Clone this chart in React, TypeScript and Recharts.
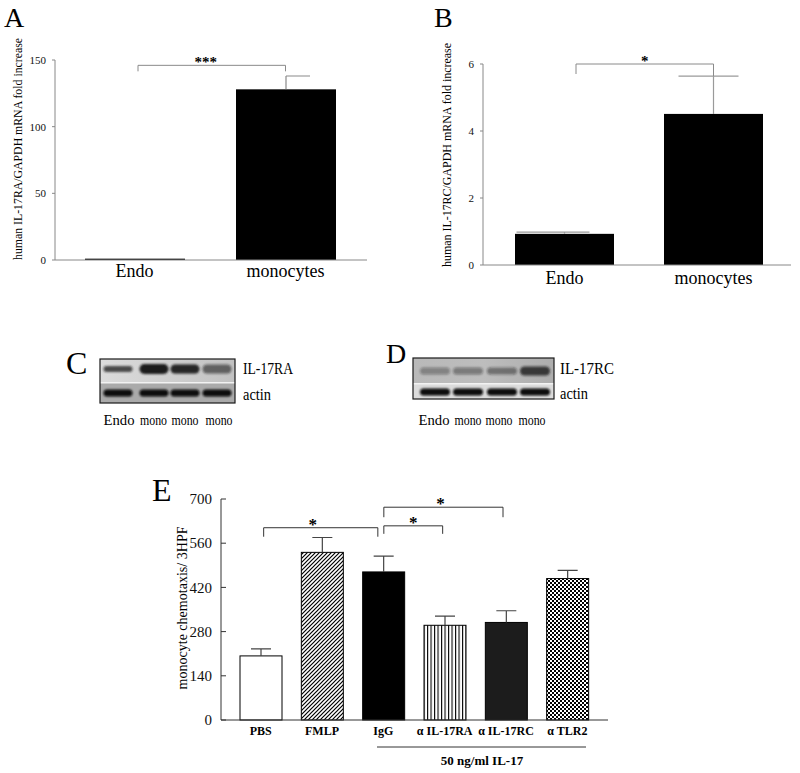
import React from "react";
import { BarChart, Bar, XAxis, YAxis, ReferenceLine } from "recharts";

const FONT = '"Liberation Serif", "Times New Roman", serif';

// Panel A - IL-17RA mRNA
const aCategories = ["Endo", "monocytes"];
const aValues = [1, 128];
const aErrors = [0, 10];
const aTicks = [0, 50, 100, 150];
const aBrackets = [{ from: "Endo", to: "monocytes", y: 146, label: "***" }];

// Panel B - IL-17RC mRNA
const bCategories = ["Endo", "monocytes"];
const bValues = [0.93, 4.51];
const bErrors = [0.05, 1.13];
const bTicks = [0, 2, 4, 6];
const bBrackets = [{ from: "Endo", to: "monocytes", y: 6.0, label: "*" }];

// Panel E - monocyte chemotaxis
const eCategories = ["PBS", "FMLP", "IgG", "α IL-17RA", "α IL-17RC", "α TLR2"];
const eValues = [203, 531, 469, 300, 309, 448];
const eErrors = [22, 47, 50, 29, 37, 26];
const eTicks = [0, 140, 280, 420, 560, 700];
const eBrackets = [
  { from: "PBS", to: "IgG", y: 609, label: "*" },
  { from: "IgG", to: "α IL-17RA", y: 615, label: "*" },
  { from: "IgG", to: "α IL-17RC", y: 674, label: "*" },
];

// Western blots (relative band intensity)
const cLanes = ["Endo", "mono", "mono", "mono"];
const cTarget = [0.75, 1, 0.95, 0.6];
const dLanes = ["Endo", "mono", "mono", "mono"];
const dTarget = [0.35, 0.4, 0.45, 0.8];

const toRows = (cats: string[], vals: number[], errs: number[]) =>
  cats.map((name, i) => ({ name, v: vals[i], err: errs[i] }));

const aData = toRows(aCategories, aValues, aErrors);
const bData = toRows(bCategories, bValues, bErrors);
const eData = toRows(eCategories, eValues, eErrors);

// styles
const aCap = [{ l: 0, r: 0 }, { l: 0, r: 24 }];
const bCap = [{ l: -48, r: 25 }, { l: -35, r: 25 }];
const eCap = eCategories.map(() => ({ l: -10, r: 10 }));
const eFills = ["#ffffff", "url(#hatchDiag)", "#000000", "url(#hatchVert)", "#1c1c1c", "url(#checker)"];

const aBracketStyle = [{ dxL: 3.5, dxR: 0, dropL: 6, dropR: 6, labelDx: -6 }];
const bBracketStyle = [{ dxL: 11.5, dxR: 0, dropL: 10, dropR: 12, labelDx: 0 }];
const eBracketStyle = [
  { dxL: 3, dxR: -5.5, dropL: 9, dropR: 9, labelDx: -8 },
  { dxL: 0.5, dxR: -2, dropL: 8, dropR: 8, labelDx: 0 },
  { dxL: 0.5, dxR: -3, dropL: 10, dropR: 10, labelDx: -3 },
];

function makeBarShape(
  fills: string[],
  stroke: string | null,
  errColor: string,
  caps: { l: number; r: number }[]
) {
  return (props: any) => {
    const { x, y, width, height, index, payload } = props;
    const cx = x + width / 2;
    const val = payload.v;
    const err = payload.err;
    const errTop = val ? y - (err * height) / val : y;
    const cap = caps[index];
    return (
      <g>
        <rect
          x={x}
          y={y}
          width={width}
          height={height}
          fill={fills[index % fills.length]}
          stroke={stroke || "none"}
          strokeWidth={stroke ? 1 : 0}
        />
        {err > 0 && (
          <path
            d={`M${cx},${y}V${errTop}M${cx + cap.l},${errTop}H${cx + cap.r}`}
            stroke={errColor}
            strokeWidth={1.2}
            fill="none"
          />
        )}
      </g>
    );
  };
}

function makeBracket(
  st: { dxL: number; dxR: number; dropL: number; dropR: number; labelDx: number },
  label: string,
  color: string,
  fontSize: number
) {
  return (p: any) => {
    const xl = p.x1 + st.dxL;
    const xr = p.x2 + st.dxR;
    const yy = p.y1;
    return (
      <g>
        <path
          d={`M${xl},${yy + st.dropL}V${yy}H${xr}V${yy + st.dropR}`}
          fill="none"
          stroke={color}
          strokeWidth={1}
        />
        <text
          x={(xl + xr) / 2 + st.labelDx}
          y={yy + 2}
          textAnchor="middle"
          fontSize={fontSize}
          fontWeight="bold"
          fontFamily={FONT}
          fill="#000"
        >
          {label}
        </text>
      </g>
    );
  };
}

const ETick = (props: any) => {
  const { x, y, payload } = props;
  return (
    <g>
      <line x1={x + 9} x2={x + 14} y1={y} y2={y} stroke="#333" strokeWidth={1} />
      <text x={x} y={y} dy="0.35em" textAnchor="end" fontSize={15} fontFamily={FONT} fill="#111">
        {payload.value}
      </text>
    </g>
  );
};

function Blot(props: {
  x: number;
  y: number;
  w: number;
  h: number;
  split: number;
  upperId: string;
  lowerFill: string;
  laneX: number[];
  target: number[];
  targetCy: number;
  targetH: number[];
  actinCy: number;
  bandW: number;
}) {
  const { x, y, w, h, split, upperId, lowerFill, laneX, target, targetCy, targetH, actinCy, bandW } = props;
  return (
    <g>
      <rect x={x} y={y} width={w} height={split - y} fill={`url(#${upperId})`} />
      <rect x={x} y={split} width={w} height={y + h - split} fill={lowerFill} />
      <rect x={x} y={split - 1} width={w} height={1.5} fill="#f2f2f2" />
      <g filter="url(#bandBlur)">
        {laneX.map((cx, i) => (
          <rect
            key={`t${i}`}
            x={cx - bandW / 2}
            y={targetCy - targetH[i] / 2}
            width={bandW}
            height={targetH[i]}
            rx={targetH[i] / 2}
            fill="#1a1a1a"
            opacity={target[i]}
          />
        ))}
        {laneX.map((cx, i) => (
          <rect
            key={`a${i}`}
            x={cx - bandW / 2}
            y={actinCy - 3.5}
            width={bandW}
            height={7}
            rx={3.5}
            fill="#0d0d0d"
          />
        ))}
      </g>
      <rect x={x} y={y} width={w} height={h} fill="none" stroke="#1a1a1a" strokeWidth={1.2} />
    </g>
  );
}

export default function App() {
  const aShape = makeBarShape(["#000"], null, "#8a8a8a", aCap);
  const bShape = makeBarShape(["#000"], null, "#9a9a9a", bCap);
  const eShape = makeBarShape(eFills, "#000", "#444", eCap);

  const abTick = { fontSize: 11, fill: "#111", fontFamily: FONT };
  const abXTick = { fontSize: 18, fill: "#000", fontFamily: FONT };

  return (
    <div
      style={{
        position: "absolute",
        left: 0,
        top: 0,
        width: 800,
        height: 773,
        background: "#fff",
        fontFamily: FONT,
        overflow: "hidden",
      }}
    >
      {/* Panel A */}
      <div style={{ position: "absolute", left: 0, top: 0 }}>
        <BarChart width={400} height={300} data={aData} margin={{ top: 60, right: 33, bottom: 10, left: 0 }}>
          <XAxis
            dataKey="name"
            height={30}
            tickLine={false}
            tickSize={0}
            tickMargin={4}
            axisLine={{ stroke: "#888" }}
            tick={abXTick}
            padding={{ left: 4, right: 6 }}
          />
          <YAxis
            type="number"
            width={55}
            domain={[0, 150]}
            ticks={aTicks}
            interval={0}
            tickSize={3}
            tickMargin={6}
            axisLine={{ stroke: "#888" }}
            tickLine={{ stroke: "#888" }}
            tick={abTick}
          />
          <Bar dataKey="v" barSize={100} isAnimationActive={false} shape={aShape} />
          {aBrackets.map((b, i) => (
            <ReferenceLine
              key={i}
              ifOverflow="visible"
              segment={[
                { x: b.from, y: b.y },
                { x: b.to, y: b.y },
              ]}
              shape={makeBracket(aBracketStyle[i], b.label, "#8a8a8a", 15)}
            />
          ))}
        </BarChart>
      </div>

      {/* Panel B */}
      <div style={{ position: "absolute", left: 400, top: 0 }}>
        <BarChart width={400} height={300} data={bData} margin={{ top: 64, right: 9, bottom: 5, left: 0 }}>
          <XAxis
            dataKey="name"
            height={30}
            tickLine={false}
            tickSize={0}
            tickMargin={6}
            axisLine={{ stroke: "#888" }}
            tick={abXTick}
            padding={{ left: 7, right: 3 }}
          />
          <YAxis
            type="number"
            width={83}
            domain={[0, 6]}
            ticks={bTicks}
            interval={0}
            tickSize={3}
            tickMargin={6}
            axisLine={{ stroke: "#888" }}
            tickLine={{ stroke: "#888" }}
            tick={abTick}
          />
          <Bar dataKey="v" barSize={99} isAnimationActive={false} shape={bShape} />
          {bBrackets.map((b, i) => (
            <ReferenceLine
              key={i}
              ifOverflow="visible"
              segment={[
                { x: b.from, y: b.y },
                { x: b.to, y: b.y },
              ]}
              shape={makeBracket(bBracketStyle[i], b.label, "#8a8a8a", 15)}
            />
          ))}
        </BarChart>
      </div>

      {/* Panel E */}
      <div style={{ position: "absolute", left: 0, top: 440 }}>
        <BarChart width={800} height={333} data={eData} margin={{ top: 59, right: 192, bottom: 23, left: 161 }}>
          <defs>
            <pattern id="hatchDiag" patternUnits="userSpaceOnUse" width={4} height={4}>
              <rect width={4} height={4} fill="#fff" />
              <path d="M-1,1 l2,-2 M0,4 l4,-4 M3,5 l2,-2" stroke="#000" strokeWidth={1.2} />
            </pattern>
            <pattern id="hatchVert" patternUnits="userSpaceOnUse" width={3.5} height={4}>
              <rect width={3.5} height={4} fill="#fff" />
              <rect x={0} y={0} width={1.1} height={4} fill="#000" />
            </pattern>
            <pattern id="checker" patternUnits="userSpaceOnUse" width={4} height={4}>
              <rect width={4} height={4} fill="#fff" />
              <rect x={0} y={0} width={2} height={2} fill="#000" />
              <rect x={2} y={2} width={2} height={2} fill="#000" />
            </pattern>
          </defs>
          <XAxis
            dataKey="name"
            height={30}
            interval={0}
            tickLine={false}
            tickSize={0}
            tickMargin={6}
            axisLine={{ stroke: "#333" }}
            tick={{ fontSize: 12, fontWeight: "bold", fill: "#000", fontFamily: FONT }}
            padding={{ left: 9, right: 10 }}
          />
          <YAxis
            type="number"
            width={60}
            domain={[0, 700]}
            ticks={eTicks}
            interval={0}
            tickSize={0}
            tickMargin={9}
            tickLine={false}
            axisLine={{ stroke: "#333" }}
            tick={<ETick />}
          />
          <Bar dataKey="v" barSize={42} isAnimationActive={false} shape={eShape} />
          {eBrackets.map((b, i) => (
            <ReferenceLine
              key={i}
              ifOverflow="visible"
              segment={[
                { x: b.from, y: b.y },
                { x: b.to, y: b.y },
              ]}
              shape={makeBracket(eBracketStyle[i], b.label, "#333", 17)}
            />
          ))}
        </BarChart>
      </div>

      {/* Letters, titles and blots */}
      <svg
        width={800}
        height={773}
        style={{ position: "absolute", left: 0, top: 0, pointerEvents: "none" }}
        fontFamily={FONT}
      >
        <defs>
          <filter id="bandBlur" x="-20%" y="-60%" width="140%" height="220%">
            <feGaussianBlur stdDeviation="1.2" />
          </filter>
          <linearGradient id="cUpper" x1="0" x2="1" y1="0" y2="0">
            <stop offset="0" stopColor="#dcdcdc" />
            <stop offset="0.5" stopColor="#cfcfcf" />
            <stop offset="1" stopColor="#c2c2c2" />
          </linearGradient>
          <linearGradient id="dUpper" x1="0" x2="1" y1="0" y2="0">
            <stop offset="0" stopColor="#b9b9b9" />
            <stop offset="0.5" stopColor="#bdbdbd" />
            <stop offset="1" stopColor="#adadad" />
          </linearGradient>
        </defs>

        <text x={4} y={27} fontSize={28}>A</text>
        <text x={434} y={27} fontSize={28}>B</text>
        <text x={66} y={374} fontSize={32}>C</text>
        <text x={386} y={363} fontSize={28}>D</text>
        <text x={152} y={501} fontSize={32}>E</text>

        <text
          x={0}
          y={0}
          fontSize={12}
          textAnchor="middle"
          dominantBaseline="central"
          textLength={222}
          lengthAdjust="spacingAndGlyphs"
          transform="translate(18,149) rotate(-90)"
        >
          human IL-17RA/GAPDH mRNA fold increase
        </text>
        <text
          x={0}
          y={0}
          fontSize={12}
          textAnchor="middle"
          dominantBaseline="central"
          textLength={224}
          lengthAdjust="spacingAndGlyphs"
          transform="translate(447,155) rotate(-90)"
        >
          human IL-17RC/GAPDH mRNA fold increase
        </text>
        <text
          x={0}
          y={0}
          fontSize={14}
          textAnchor="middle"
          dominantBaseline="central"
          textLength={163}
          lengthAdjust="spacingAndGlyphs"
          transform="translate(182,608) rotate(-90)"
        >
          monocyte chemotaxis/ 3HPF
        </text>

        {/* C blot */}
        <Blot
          x={100}
          y={359}
          w={135}
          h={44}
          split={383}
          upperId="cUpper"
          lowerFill="#aaaaaa"
          laneX={[118, 154, 185, 217]}
          target={cTarget}
          targetCy={369}
          targetH={[6, 10, 9, 9]}
          actinCy={393}
          bandW={29}
        />
        <text x={243} y={374} fontSize={17} textLength={50} lengthAdjust="spacingAndGlyphs">IL-17RA</text>
        <text x={243} y={400} fontSize={17} textLength={28} lengthAdjust="spacingAndGlyphs">actin</text>
        {cLanes.map((l, i) => (
          <text
            key={i}
            x={[119, 153.5, 185, 219][i]}
            y={425}
            fontSize={15}
            textAnchor="middle"
            textLength={l === "Endo" ? 31 : 27}
            lengthAdjust="spacingAndGlyphs"
          >
            {l}
          </text>
        ))}

        {/* D blot */}
        <Blot
          x={413}
          y={358}
          w={141}
          h={41}
          split={384}
          upperId="dUpper"
          lowerFill="#dcdcdc"
          laneX={[435, 468, 502, 535]}
          target={dTarget}
          targetCy={371}
          targetH={[7, 7, 7, 9]}
          actinCy={392}
          bandW={30}
        />
        <text x={560} y={374} fontSize={17} textLength={54} lengthAdjust="spacingAndGlyphs">IL-17RC</text>
        <text x={560} y={399} fontSize={17} textLength={28} lengthAdjust="spacingAndGlyphs">actin</text>
        {dLanes.map((l, i) => (
          <text
            key={i}
            x={[434, 468, 499, 532][i]}
            y={425}
            fontSize={15}
            textAnchor="middle"
            textLength={l === "Endo" ? 31 : 27}
            lengthAdjust="spacingAndGlyphs"
          >
            {l}
          </text>
        ))}

        {/* E treatment annotation */}
        <line x1={377} x2={586} y1={747} y2={747} stroke="#333" strokeWidth={1} />
        <text x={482} y={765} fontSize={13} fontWeight="bold" textAnchor="middle">
          50 ng/ml  IL-17
        </text>
      </svg>
    </div>
  );
}
